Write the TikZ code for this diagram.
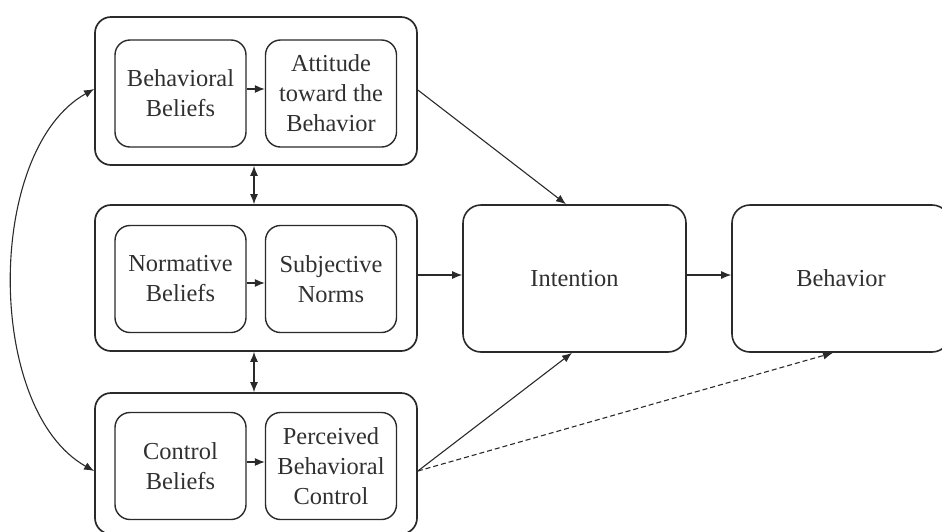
\documentclass[tikz,border=0pt]{standalone}
\usepackage{fontspec}
\setmainfont{Liberation Serif}
\usetikzlibrary{arrows.meta}
\definecolor{ln}{HTML}{2a2a2a}
\definecolor{tx}{HTML}{303030}
\begin{document}
\begin{tikzpicture}[x=1pt,y=-1pt,
  outerbox/.style={draw=ln,line width=1.7pt,rounded corners=16pt,minimum width=322pt,inner sep=0pt},
  innerbox/.style={draw=ln,line width=1.4pt,rounded corners=15pt,minimum width=131pt,minimum height=107pt,inner sep=0pt,align=center,text=tx,font=\fontsize{24.4}{30}\selectfont},
  bigbox/.style={draw=ln,line width=1.6pt,rounded corners=18pt,minimum height=147pt,inner sep=0pt,text=tx,font=\fontsize{24.4}{30}\selectfont},
  arr/.style={draw=ln,line width=1.1pt,-{Latex[length=10pt,width=8pt]}},
  darr/.style={draw=ln,line width=1.1pt,{Latex[length=10pt,width=8pt]}-{Latex[length=10pt,width=8pt]}}]
\useasboundingbox (0,0) rectangle (942,531);
% outer boxes
\node[outerbox,minimum height=148pt] (o1) at (256,91) {};
\node[outerbox,minimum height=146pt] (o2) at (256,278) {};
\node[outerbox,minimum height=141pt] (o3) at (256,463.5) {};
% inner boxes
\node[innerbox] (bb) at (180.5,93.5) {Behavioral\\Beliefs};
\node[innerbox] (att) at (331,93.5) {Attitude\\toward the\\Behavior};
\node[innerbox] (nb) at (180.5,279) {Normative\\Beliefs};
\node[innerbox] (sn) at (331,279) {Subjective\\Norms};
\node[innerbox] (cb) at (180.5,466) {Control\\Beliefs};
\node[innerbox] (pbc) at (331,466) {Perceived\\Behavioral\\Control};
% right boxes
\node[bigbox,minimum width=223pt] (int) at (574.5,278.5) {Intention};
\node[bigbox,minimum width=218pt] (beh) at (841,278.5) {Behavior};
% inner arrows
\draw[arr] (bb.east |- 0,89) -- (att.west |- 0,89);
\draw[arr] (nb.east |- 0,283) -- (sn.west |- 0,283);
\draw[arr] (cb.east |- 0,462) -- (pbc.west |- 0,462);
% vertical double arrows
\draw[darr] (o1.south -| 254,0) -- (o2.north -| 254,0);
\draw[darr] (o2.south -| 254,0) -- (o3.north -| 254,0);
% connections to intention
\coordinate (a1) at (o1.east |- 0,90);
\coordinate (a3) at (o3.east |- 0,471);
\coordinate (ti) at (int.north -| 566,0);
\coordinate (bi) at (int.south -| 572,0);
\coordinate (bbh) at (beh.south -| 833,0);
\draw[arr] (a1) -- (ti);
\draw[arr] (o2.east |- 0,275) -- (int.west |- 0,275);
\draw[arr] (a3) -- (bi);
\draw[arr,dash pattern=on 5pt off 3pt] (a3) -- (bbh);
\draw[arr] (int.east |- 0,275) -- (beh.west |- 0,275);
% curved feedback arrow
\coordinate (l1) at (o1.west |- 0,89);
\coordinate (l3) at (o3.west |- 0,471);
\draw[darr] (l1) .. controls (-15,150) and (-15,410) .. (l3);
\end{tikzpicture}
\end{document}
